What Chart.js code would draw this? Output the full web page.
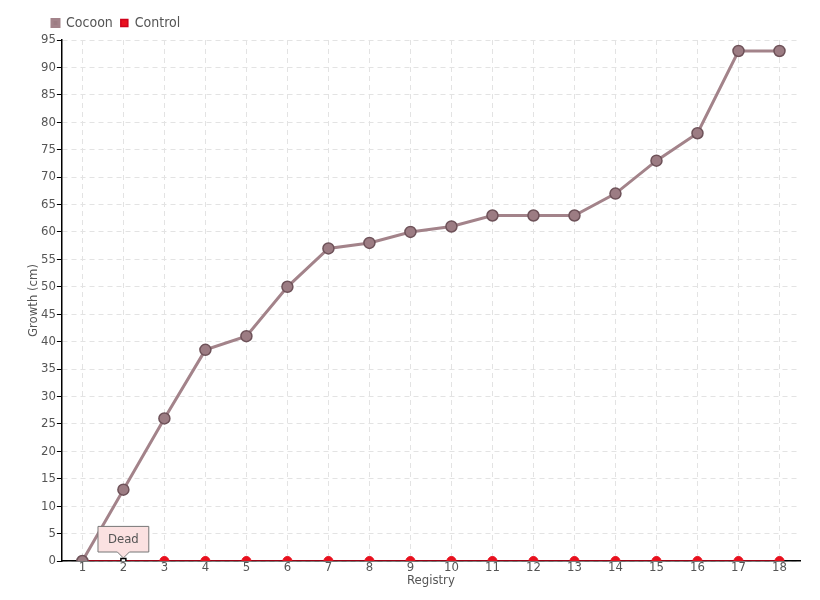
<!DOCTYPE html>
<html>
<head>
<meta charset="utf-8">
<script src="https://cdn.jsdelivr.net/npm/chart.js@4"></script>
<style>
    body { margin: 0; background: #fff; }
    #wrap { width: 820px; height: 600px; }
</style>
</head>
<body>
<div id="wrap"><canvas id="grafico" width="820" height="600"></canvas></div>
<script>
// Dados do gráfico
const registros = ['1', '2', '3', '4', '5', '6', '7', '8', '9', '10', '11', '12', '13', '14', '15', '16', '17', '18'];
const cocoon = [0, 13, 26, 38.5, 41, 50, 57, 58, 60, 61, 63, 63, 63, 67, 73, 78, 93, 93];
const controle = [0, 0, 0, 0, 0, 0, 0, 0, 0, 0, 0, 0, 0, 0, 0, 0, 0, 0];
const notas = ['', 'Dead', '', '', '', '', '', '', '', '', '', '', '', '', '', '', '', ''];

const fonte = "'DejaVu Sans Condensed', 'Liberation Sans Narrow', 'DejaVu Sans', sans-serif";
const corTexto = '#555';

// Desloca a legenda para a direita, como no original
const moverLegenda = {
    id: 'moverLegenda',
    afterLayout(chart) {
        if (chart.legend) {
            chart.legend.left += 17;
            chart.legend.right += 17;
        }
    }
};

const grafico = new Chart(document.getElementById('grafico'), {
    type: 'line',
    data: {
        labels: registros,
        datasets: [{
            label: 'Cocoon',
            data: cocoon,
            borderColor: '#a3838a',
            backgroundColor: '#9c7c83',
            borderWidth: 3,
            pointRadius: 5.5,
            pointBorderWidth: 1.5,
            pointBorderColor: '#6e5259',
            pointBackgroundColor: '#9c7c83',
            tension: 0
        }, {
            label: 'Control',
            data: controle,
            borderColor: '#d0021b',
            backgroundColor: '#e8101e',
            borderWidth: 1.5,
            pointRadius: 4.5,
            pointBorderWidth: 1,
            pointBorderColor: '#e8101e',
            pointBackgroundColor: '#e8101e',
            pointHoverRadius: 3.5,
            pointHoverBorderWidth: 1.5,
            pointHoverBorderColor: '#000',
            pointHoverBackgroundColor: '#fff',
            pointStyle: ctx => ctx.active ? 'rect' : 'circle',
            tension: 0
        }]
    },
    plugins: [moverLegenda],
    options: {
        responsive: false,
        animation: false,
        events: [],
        layout: { padding: { left: 27, right: 20, top: 8, bottom: 13 } },
        plugins: {
            legend: {
                align: 'start',
                labels: {
                    boxWidth: 7,
                    boxHeight: 7,
                    padding: 8,
                    color: corTexto,
                    font: { family: fonte, size: 14 }
                }
            },
            tooltip: {
                yAlign: 'bottom',
                xAlign: 'center',
                backgroundColor: '#fbe1e1',
                borderColor: '#777',
                borderWidth: 1,
                cornerRadius: 0,
                caretSize: 6,
                caretPadding: 3,
                padding: { left: 10, right: 10, top: 5, bottom: 5 },
                displayColors: false,
                bodyColor: corTexto,
                bodyFont: { family: fonte, size: 13 },
                callbacks: {
                    title: () => '',
                    label: ctx => notas[ctx.dataIndex]
                }
            }
        },
        scales: {
            x: {
                offset: true,
                grid: {
                    color: '#e3e3e3',
                    drawTicks: false
                },
                border: { color: '#000', width: 1.5, dash: [5, 4] },
                ticks: { color: corTexto, padding: 0, font: { family: fonte, size: 13, lineHeight: 1 } },
                title: {
                    display: true,
                    text: 'Registry',
                    color: corTexto,
                    padding: 0,
                    font: { family: fonte, size: 13, lineHeight: 1 }
                }
            },
            y: {
                min: 0,
                max: 95,
                grid: {
                    color: '#e3e3e3',
                    tickColor: '#000',
                    tickLength: 5,
                    tickBorderDash: []
                },
                border: { color: '#000', width: 1.5, dash: [5, 4] },
                ticks: { stepSize: 5, color: corTexto, padding: 1, font: { family: fonte, size: 13 } },
                title: {
                    display: true,
                    text: 'Growth (cm)',
                    color: corTexto,
                    padding: 0,
                    font: { family: fonte, size: 13, lineHeight: 1 }
                }
            }
        }
    }
});

// Marcar o ponto com nota
const ativos = [];
notas.forEach((n, i) => { if (n) ativos.push({ datasetIndex: 1, index: i }); });
grafico.setActiveElements(ativos);
grafico.tooltip.setActiveElements(ativos, { x: 0, y: 0 });
grafico.update();
</script>
</body>
</html>
